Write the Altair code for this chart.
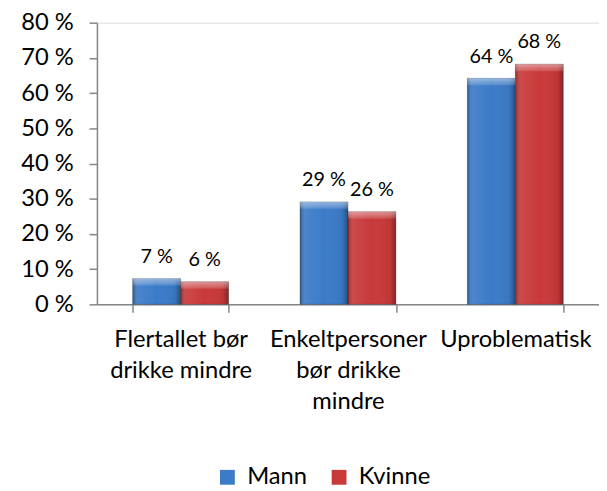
import altair as alt
import pandas as pd

# ---- data ----
categories = ["Flertallet bør|drikke mindre", "Enkeltpersoner|bør drikke|mindre", "Uproblematisk"]
series = ["Mann", "Kvinne"]
mann = [7.3, 29.1, 64.2]
kvinne = [6.4, 26.3, 68.2]
y_ticks = [0, 10, 20, 30, 40, 50, 60, 70, 80]
colors = ["#3B7BC8", "#C9393A"]

rows = []
for c, m, k in zip(categories, mann, kvinne):
    rows.append({"kategori": c, "kjonn": "Mann", "verdi": m})
    rows.append({"kategori": c, "kjonn": "Kvinne", "verdi": k})
df = pd.DataFrame(rows)

FONT = "Lato"
GRAY = "#868686"

x_enc = alt.X(
    "kategori:N",
    sort=categories,
    scale=alt.Scale(paddingInner=0.427, paddingOuter=0.2135),
    axis=alt.Axis(
        title=None,
        labelAngle=0,
        labelExpr="split(datum.label, '|')",
        labelFont=FONT,
        labelFontSize=24,
        labelColor="#000000",
        labelPadding=16,
        labelLineHeight=31,
        labelBaseline="top",
        tickBand="extent",
        tickSize=8,
        tickColor=GRAY,
        tickWidth=1.5,
        domainColor=GRAY,
        domainWidth=1.5,
        labelLimit=400,
    ),
)
y_enc = alt.Y(
    "verdi:Q",
    scale=alt.Scale(domain=[0, 80], nice=False),
    axis=alt.Axis(
        title=None,
        values=y_ticks,
        labelExpr="datum.value + ' %'",
        labelFont=FONT,
        labelFontSize=24,
        labelColor="#000000",
        labelPadding=16,
        tickSize=8,
        tickColor=GRAY,
        tickWidth=1.5,
        domainColor=GRAY,
        domainWidth=1.5,
        grid=False,
    ),
)
xoff = alt.XOffset("kjonn:N", sort=series)

bars = alt.Chart(df).mark_bar(stroke="#1e2a3a", strokeWidth=0.6, strokeOpacity=0.5).encode(
    x=x_enc,
    y=y_enc,
    xOffset=xoff,
    color=alt.Color(
        "kjonn:N",
        sort=series,
        scale=alt.Scale(domain=series, range=colors),
        legend=alt.Legend(
            title=None,
            orient="none",
            legendX=120,
            legendY=448,
            direction="horizontal",
            symbolType="square",
            symbolSize=225,
            symbolStrokeWidth=0,
            labelFont=FONT,
            labelFontSize=24,
            labelColor="#000000",
            columnPadding=20,
            labelOffset=8,
            padding=0,
        ),
    ),
)

shade = alt.Chart(df).mark_bar(
    fill=alt.Gradient(
        gradient="linear",
        x1=0, y1=0, x2=1, y2=0,
        stops=[
            alt.GradientStop(offset=0, color="rgba(0,0,0,0.30)"),
            alt.GradientStop(offset=0.12, color="rgba(255,255,255,0.08)"),
            alt.GradientStop(offset=0.5, color="rgba(255,255,255,0.0)"),
            alt.GradientStop(offset=0.88, color="rgba(0,0,0,0.05)"),
            alt.GradientStop(offset=1, color="rgba(0,0,0,0.35)"),
        ],
    )
).encode(x=x_enc, y=y_enc, xOffset=xoff)

top_bevel = alt.Chart(df).mark_bar(
    y2Offset=7,
    fill=alt.Gradient(
        gradient="linear",
        x1=0, y1=0, x2=0, y2=1,
        stops=[
            alt.GradientStop(offset=0, color="rgba(255,255,255,0.45)"),
            alt.GradientStop(offset=1, color="rgba(255,255,255,0.12)"),
        ],
    ),
).encode(x=x_enc, y=y_enc, y2="verdi:Q", xOffset=xoff)

labels = alt.Chart(df).transform_calculate(
    tekst="format(datum.verdi, '.0f') + ' %'"
).mark_text(font=FONT, fontSize=20, color="#000000", dy=-22, baseline="middle").encode(
    x=x_enc, y=y_enc, xOffset=xoff, text="tekst:N"
)

chart = alt.layer(bars, shade, top_bevel, labels).properties(
    width=508,
    height=285,
    autosize=alt.AutoSizeParams(type="none"),
    padding={"left": 90, "top": 12, "right": 0, "bottom": 186},
).configure_view(stroke=None).configure(background="#ffffff")

chart.save("out.html", embed_options={"renderer": "svg", "actions": False})
